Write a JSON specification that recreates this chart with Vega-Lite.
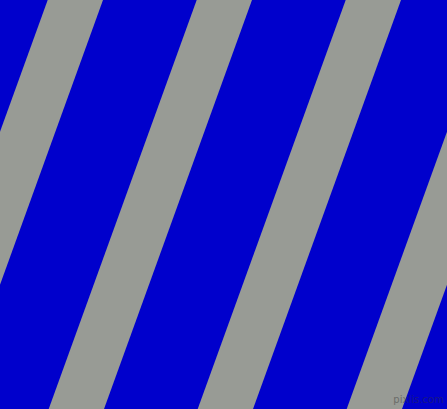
{
  "$schema": "https://vega.github.io/schema/vega-lite/v6.json",
  "width": 447,
  "height": 409,
  "autosize": {"type": "fit", "contains": "padding"},
  "padding": 0,
  "background": "#0000CC",
  "config": {"view": {"stroke": null, "fill": "#0000CC"}},
  "layer": [
    {
      "data": {
        "values": [
          {"stripe": "A", "y": 0, "left": 47.7, "right": 103},
          {"stripe": "A", "y": 409, "left": -100.3, "right": -45},
          {"stripe": "B", "y": 0, "left": 196.7, "right": 252},
          {"stripe": "B", "y": 409, "left": 48.7, "right": 104},
          {"stripe": "C", "y": 0, "left": 345.7, "right": 401},
          {"stripe": "C", "y": 409, "left": 197.7, "right": 253},
          {"stripe": "D", "y": 0, "left": 494.7, "right": 550},
          {"stripe": "D", "y": 409, "left": 346.7, "right": 402}
        ]
      },
      "mark": {"type": "area", "orient": "horizontal", "clip": true, "color": "#989B95"},
      "encoding": {
        "y": {"field": "y", "type": "quantitative", "scale": {"domain": [0, 409], "reverse": true, "nice": false, "zero": false}, "axis": null},
        "x": {"field": "left", "type": "quantitative", "scale": {"domain": [0, 447], "nice": false, "zero": false}, "axis": null},
        "x2": {"field": "right"},
        "detail": {"field": "stripe", "type": "nominal"}
      }
    },
    {
      "data": {"values": [{"label": "pixlis.com", "x": 418.5, "y": 400}]},
      "mark": {"type": "text", "font": "DejaVu Sans", "fontSize": 10, "color": "#333333", "opacity": 0.45, "baseline": "middle", "align": "center"},
      "encoding": {
        "x": {"field": "x", "type": "quantitative", "scale": {"domain": [0, 447], "nice": false, "zero": false}, "axis": null},
        "y": {"field": "y", "type": "quantitative", "scale": {"domain": [0, 409], "reverse": true, "nice": false, "zero": false}, "axis": null},
        "text": {"field": "label"}
      }
    }
  ]
}
